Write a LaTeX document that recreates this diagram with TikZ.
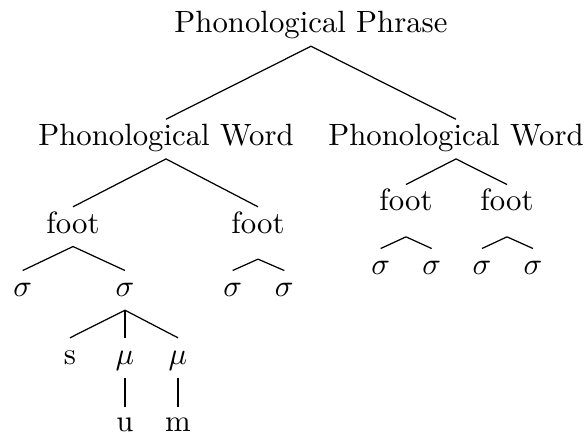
\documentclass[tikz,border=0pt]{standalone}
\begin{document}
\begin{tikzpicture}[x=0.3249pt, y=-0.3249pt,
  lbl/.style={anchor=base, inner sep=0pt},
  down/.style={yshift=-4.3pt},
  downlong/.style={yshift=-8.4pt},
  up/.style={yshift=8.6pt}]
\useasboundingbox (0,0) rectangle (587,437);

% labels, placed on their baselines
\node[lbl] (pp)  at (311,33)    {Phonological Phrase};
\node[lbl] (pw1) at (166,145.7) {Phonological Word};
\node[lbl] (pw2) at (456,145.7) {Phonological Word};

\node[lbl] (f1) at (73,233.3)  {foot};
\node[lbl] (f2) at (258,233.3) {foot};
\node[lbl] (f3) at (406,211)   {foot};
\node[lbl] (f4) at (507,211)   {foot};

\node[lbl] (s1) at (22.7,297)  {$\sigma$};
\node[lbl] (s2) at (125,297)   {$\sigma$};
\node[lbl] (s3) at (232.7,297) {$\sigma$};
\node[lbl] (s4) at (284.3,297) {$\sigma$};
\node[lbl] (s5) at (380.7,275) {$\sigma$};
\node[lbl] (s6) at (431.7,275) {$\sigma$};
\node[lbl] (s7) at (482,275)   {$\sigma$};
\node[lbl] (s8) at (533,275)   {$\sigma$};

\node[lbl] (on) at (70,364.3)  {s};
\node[lbl] (m1) at (125,364.3) {$\mu$};
\node[lbl] (m2) at (178,364.3) {$\mu$};

\node[lbl] (su) at (125,431.7) {u};
\node[lbl] (sm) at (178,431.7) {m};

% branches
\draw ([down]pp.base) -- ([up]pw1.base);
\draw ([down]pp.base) -- ([up]pw2.base);

\draw ([down]pw1.base) -- ([up]f1.base);
\draw ([down]pw1.base) -- ([up]f2.base);
\draw ([down]pw2.base) -- ([up]f3.base);
\draw ([down]pw2.base) -- ([up]f4.base);

\draw ([down]f1.base) -- ([up]s1.base);
\draw ([down]f1.base) -- ([up]s2.base);
\draw ([downlong]f2.base) -- ([up]s3.base);
\draw ([downlong]f2.base) -- ([up]s4.base);
\draw ([downlong]f3.base) -- ([up]s5.base);
\draw ([downlong]f3.base) -- ([up]s6.base);
\draw ([downlong]f4.base) -- ([up]s7.base);
\draw ([downlong]f4.base) -- ([up]s8.base);

\draw ([down]s2.base) -- ([up]on.base);
\draw ([down]s2.base) -- ([up]m1.base);
\draw ([down]s2.base) -- ([up]m2.base);

\draw ([down]m1.base) -- ([yshift=8.1pt]su.base);
\draw ([down]m2.base) -- ([yshift=8.1pt]sm.base);
\end{tikzpicture}
\end{document}
